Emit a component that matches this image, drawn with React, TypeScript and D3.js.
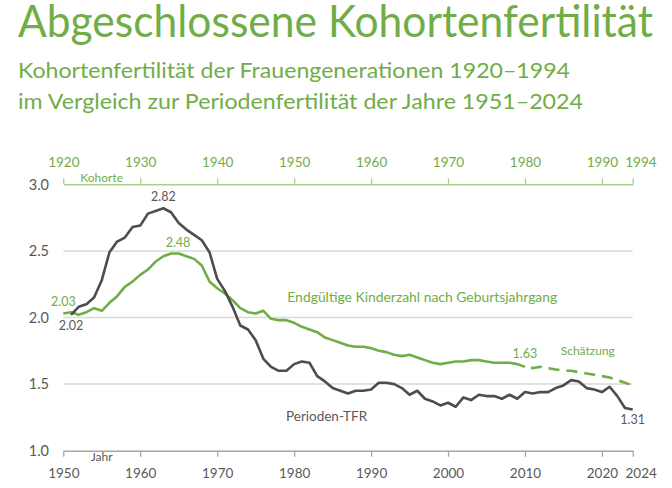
import React, { useEffect, useRef } from 'react';
import * as d3 from 'd3';

// Period total fertility rate, calendar years 1951–2024
const PERIOD_START = 1951;
const periodTFR = [
  2.02, 2.08, 2.10, 2.15, 2.28, 2.49, 2.57, 2.60, 2.68, 2.69, // 1951–1960
  2.78, 2.80, 2.82, 2.79, 2.71, 2.66, 2.62, 2.58, 2.49, 2.29, // 1961–1970
  2.20, 2.08, 1.94, 1.91, 1.83, 1.69, 1.63, 1.60, 1.60, 1.65, // 1971–1980
  1.67, 1.66, 1.56, 1.52, 1.47, 1.45, 1.43, 1.45, 1.45, 1.46, // 1981–1990
  1.51, 1.51, 1.50, 1.47, 1.42, 1.45, 1.39, 1.37, 1.34, 1.36, // 1991–2000
  1.33, 1.40, 1.38, 1.42, 1.41, 1.41, 1.39, 1.42, 1.39, 1.44, // 2001–2010
  1.43, 1.44, 1.44, 1.47, 1.49, 1.53, 1.52, 1.47, 1.46, 1.44, // 2011–2020
  1.48, 1.41, 1.32, 1.31,                                     // 2021–2024
];

// Completed fertility by birth cohort, 1920–1980
const COHORT_START = 1920;
const cohortCompleted = [
  2.03, 2.04, 2.02, 2.04, 2.07, 2.05, 2.11, 2.16, 2.23, 2.27, // 1920–1929
  2.32, 2.36, 2.42, 2.46, 2.48, 2.48, 2.46, 2.44, 2.39, 2.27, // 1930–1939
  2.22, 2.18, 2.13, 2.07, 2.04, 2.03, 2.05, 1.99, 1.98, 1.98, // 1940–1949
  1.96, 1.93, 1.91, 1.89, 1.85, 1.83, 1.81, 1.79, 1.78, 1.78, // 1950–1959
  1.77, 1.75, 1.74, 1.72, 1.71, 1.72, 1.70, 1.68, 1.66, 1.65, // 1960–1969
  1.66, 1.67, 1.67, 1.68, 1.68, 1.67, 1.66, 1.66, 1.66, 1.65, // 1970–1979
  1.63,                                                       // 1980
];

// Estimated completed fertility, cohorts 1980–1994
const ESTIMATE_START = 1980;
const cohortEstimate = [
  1.63, 1.62, 1.63, 1.62, 1.61, 1.60, 1.60, 1.59, 1.58, 1.57,
  1.56, 1.55, 1.53, 1.51, 1.49,
];

const yearTicks = [1950, 1960, 1970, 1980, 1990, 2000, 2010, 2020, 2024];
const cohortTicks = [1920, 1930, 1940, 1950, 1960, 1970, 1980, 1990, 1994];
const valueTicks = [1.0, 1.5, 2.0, 2.5, 3.0];
const gridValues = [1.5, 2.0, 2.5];

const GREEN = '#70ad47';
const LIGHT_GREEN = '#a9d18e';
const DARK = '#4d4d4d';
const TEXT_GRAY = '#595959';
const FONT = 'Lato, "Open Sans", sans-serif';

type Pt = { t: number; v: number };
const toPoints = (start: number, vals: number[]): Pt[] =>
  vals.map((v, i) => ({ t: start + i, v }));

export default function App() {
  const ref = useRef<SVGSVGElement>(null);

  useEffect(() => {
    const svg = d3.select(ref.current);
    svg.selectAll('*').remove();

    const x = d3.scaleLinear().domain([1950, 2024]).range([63.3, 632.7]);
    const xc = d3.scaleLinear().domain([1920, 1994]).range([63.3, 632.7]);
    const y = d3.scaleLinear().domain([1, 3]).range([450.7, 184.3]);

    // Titles
    svg.append('text').attr('x', 18).attr('y', 36.7)
      .attr('font-family', FONT).attr('font-size', 44).attr('fill', GREEN)
      .attr('textLength', 635).attr('lengthAdjust', 'spacingAndGlyphs')
      .text('Abgeschlossene Kohortenfertilität');
    svg.append('text').attr('x', 18).attr('y', 77.7)
      .attr('font-family', FONT).attr('font-size', 21).attr('fill', GREEN)
      .attr('textLength', 552).attr('lengthAdjust', 'spacingAndGlyphs')
      .text('Kohortenfertilität der Frauengenerationen 1920–1994');
    svg.append('text').attr('x', 18).attr('y', 109)
      .attr('font-family', FONT).attr('font-size', 21).attr('fill', GREEN)
      .attr('textLength', 565).attr('lengthAdjust', 'spacingAndGlyphs')
      .text('im Vergleich zur Periodenfertilität der Jahre 1951–2024');

    // Horizontal gridlines
    svg.append('g').selectAll('line').data(gridValues).join('line')
      .attr('x1', x(1950)).attr('x2', x(2024))
      .attr('y1', (d) => y(d)).attr('y2', (d) => y(d))
      .attr('stroke', '#d9d9d9').attr('stroke-width', 1.5);

    // Y value labels
    svg.append('g').selectAll('text').data(valueTicks).join('text')
      .attr('x', 49).attr('y', (d) => y(d)).attr('dy', '0.36em')
      .attr('text-anchor', 'end')
      .attr('font-family', FONT).attr('font-size', 14.5).attr('fill', TEXT_GRAY)
      .text((d) => d3.format('.1f')(d));

    // Top axis: birth cohorts
    const topAxis = svg.append('g').attr('transform', `translate(0,${y(3)})`)
      .call(d3.axisTop(xc).tickValues(cohortTicks).tickFormat(d3.format('d'))
        .tickSize(6).tickSizeOuter(0).tickPadding(11.5));
    topAxis.select('.domain').attr('stroke', LIGHT_GREEN).attr('stroke-width', 1.5);
    topAxis.selectAll('.tick line').attr('stroke', LIGHT_GREEN).attr('stroke-width', 1.3);
    topAxis.selectAll('.tick text')
      .attr('font-family', FONT).attr('font-size', 13.5).attr('fill', GREEN)
      .attr('dx', (d) => (d === 1994 ? 7.7 : 0));

    // Bottom axis: calendar years
    const bottomAxis = svg.append('g').attr('transform', `translate(0,${y(1)})`)
      .call(d3.axisBottom(x).tickValues(yearTicks).tickFormat(d3.format('d'))
        .tickSize(6).tickSizeOuter(0).tickPadding(11.4));
    bottomAxis.select('.domain').attr('stroke', '#a6a6a6').attr('stroke-width', 1.5);
    bottomAxis.selectAll('.tick line').attr('stroke', '#a6a6a6').attr('stroke-width', 1.3);
    bottomAxis.selectAll('.tick text')
      .attr('font-family', FONT).attr('font-size', 13.5).attr('fill', TEXT_GRAY)
      .attr('dx', (d) => (d === 2024 ? 8 : 0));

    svg.append('text').attr('x', 101.7).attr('y', 181.5).attr('text-anchor', 'middle')
      .attr('font-family', FONT).attr('font-size', 12).attr('fill', GREEN).text('Kohorte');
    svg.append('text').attr('x', 101.7).attr('y', 460.7).attr('text-anchor', 'middle')
      .attr('font-family', FONT).attr('font-size', 12).attr('fill', TEXT_GRAY).text('Jahr');

    // Series
    const cohortPts = toPoints(COHORT_START, cohortCompleted);
    const estimatePts = toPoints(ESTIMATE_START, cohortEstimate);
    const periodPts = toPoints(PERIOD_START, periodTFR);

    const cohortLine = d3.line<Pt>().x((d) => xc(d.t)).y((d) => y(d.v));
    const periodLine = d3.line<Pt>().x((d) => x(d.t)).y((d) => y(d.v));

    svg.append('path').datum(cohortPts).attr('d', cohortLine)
      .attr('fill', 'none').attr('stroke', GREEN).attr('stroke-width', 2.6)
      .attr('stroke-linejoin', 'round');
    svg.append('path').datum(estimatePts).attr('d', cohortLine)
      .attr('fill', 'none').attr('stroke', GREEN).attr('stroke-width', 2.6)
      .attr('stroke-dasharray', '11 7').attr('stroke-dashoffset', -6);
    svg.append('path').datum(periodPts).attr('d', periodLine)
      .attr('fill', 'none').attr('stroke', DARK).attr('stroke-width', 2.6)
      .attr('stroke-linejoin', 'round');

    // Value labels
    const fmt = d3.format('.2f');
    const label = (px: number, py: number, txt: string, color: string) =>
      svg.append('text').attr('x', px).attr('y', py).attr('text-anchor', 'middle')
        .attr('font-family', FONT).attr('font-size', 12.5).attr('fill', color).text(txt);

    const periodMax = periodPts.reduce((a, b) => (b.v > a.v ? b : a));
    label(x(periodMax.t), y(periodMax.v) - 7, fmt(periodMax.v), TEXT_GRAY);
    const cohortMax = cohortPts.reduce((a, b) => (b.v > a.v ? b : a));
    label(xc(cohortMax.t) + 7, y(cohortMax.v) - 7, fmt(cohortMax.v), GREEN);
    const cohortFirst = cohortPts[0];
    label(xc(cohortFirst.t), y(cohortFirst.v) - 7.7, fmt(cohortFirst.v), GREEN);
    const periodFirst = periodPts[0];
    label(x(periodFirst.t), y(periodFirst.v) + 15, fmt(periodFirst.v), TEXT_GRAY);
    const cohortLast = cohortPts[cohortPts.length - 1];
    label(xc(cohortLast.t), y(cohortLast.v) - 8.6, fmt(cohortLast.v), GREEN);
    const periodLast = periodPts[periodPts.length - 1];
    label(x(periodLast.t), y(periodLast.v) + 14.6, fmt(periodLast.v), TEXT_GRAY);

    // Series names
    svg.append('text').attr('x', 287.3).attr('y', 301.7)
      .attr('font-family', FONT).attr('font-size', 13.9).attr('fill', GREEN)
      .text('Endgültige Kinderzahl nach Geburtsjahrgang');
    svg.append('text').attr('x', 560.7).attr('y', 355)
      .attr('font-family', FONT).attr('font-size', 12).attr('fill', GREEN)
      .text('Schätzung');
    svg.append('text').attr('x', 286).attr('y', 420.5)
      .attr('font-family', FONT).attr('font-size', 13.5).attr('fill', TEXT_GRAY)
      .text('Perioden-TFR');
  }, []);

  return (
    <svg
      ref={ref}
      width={672}
      height={488}
      style={{ position: 'absolute', left: 0, top: 0, background: '#fff' }}
    />
  );
}
